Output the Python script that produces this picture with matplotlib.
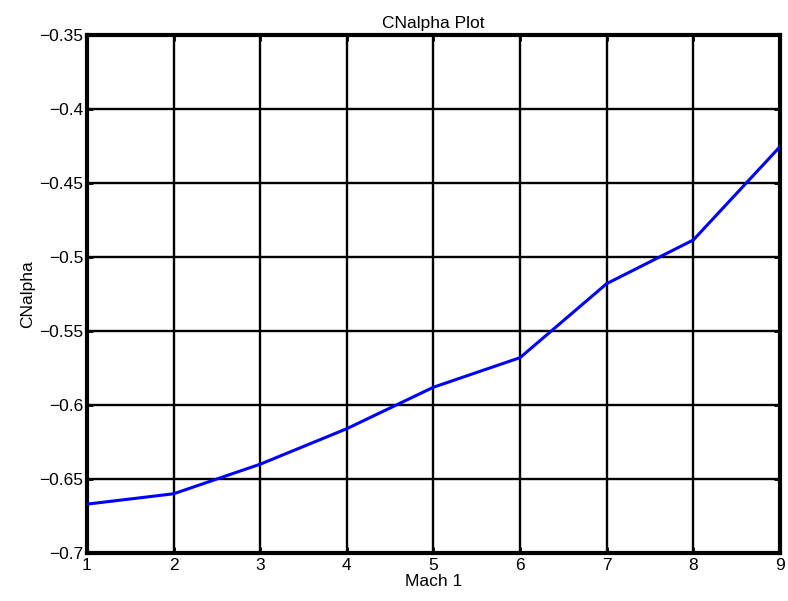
import matplotlib
matplotlib.use("Agg")
import matplotlib.pyplot as plt

mach = [1, 2, 3, 4, 5, 6, 7, 8, 9]
cnalpha = [-0.667, -0.660, -0.640, -0.616, -0.588, -0.568, -0.518, -0.4885, -0.4255]
yticks = [-0.7, -0.65, -0.6, -0.55, -0.5, -0.45, -0.4, -0.35]
ytick_labels = ["\u22120.7", "\u22120.65", "\u22120.6", "\u22120.55", "\u22120.5", "\u22120.45", "\u22120.4", "\u22120.35"]

plt.rcParams['font.family'] = ['Liberation Sans', 'DejaVu Sans']
fs = 12.5
fig = plt.figure(figsize=(7.88, 6.01), dpi=100)
ax = fig.add_axes([0.1104, 0.0799, 0.8794, 0.8619])
ax.plot(mach, cnalpha, color='#0000ff', lw=2.2, zorder=3)
ax.set_xlim(1, 9)
ax.set_ylim(-0.7, -0.35)
ax.set_xticks(mach)
ax.set_yticks(yticks)
ax.set_yticklabels(ytick_labels)
ax.grid(True, color='black', lw=1.7, ls='-')
ax.tick_params(direction='in', length=4, width=2, labelsize=fs, top=True, right=True)
ax.tick_params(axis='y', pad=2.5)
ax.tick_params(axis='x', pad=3.5)
for s in ax.spines.values():
    s.set_linewidth(3)
ax.set_xlabel("Mach 1", fontsize=fs, labelpad=0.5)
ax.set_ylabel("CNalpha", fontsize=fs, labelpad=3)
ax.set_title("CNalpha Plot", fontsize=fs, pad=5)
fig.savefig("out.png", dpi=100)
